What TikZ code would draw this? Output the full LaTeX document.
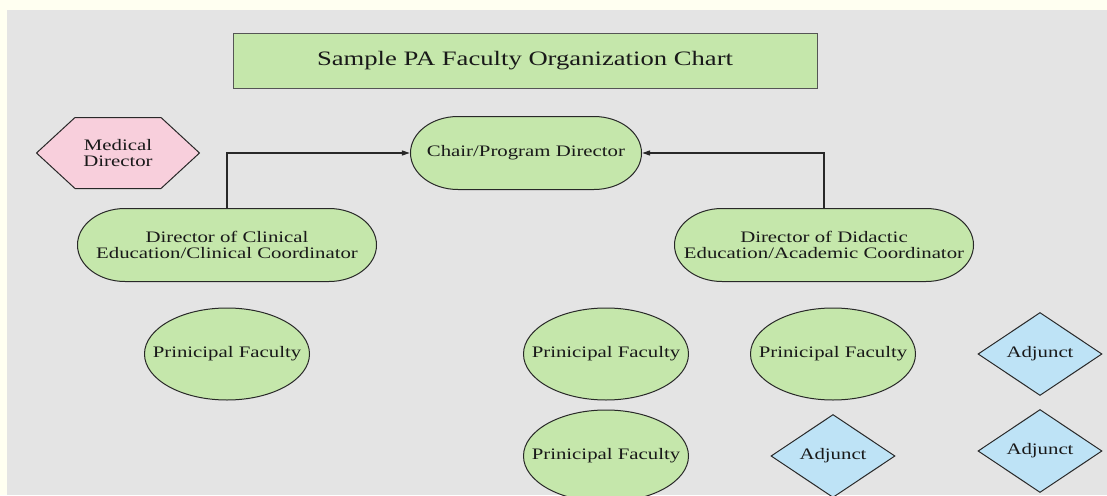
\documentclass[tikz,border=0pt]{standalone}
\usepackage{fontspec}
\setmainfont{Liberation Serif}[FakeStretch=1.3]
\usetikzlibrary{shapes.geometric,arrows.meta,calc}
\definecolor{creamc}{RGB}{255,255,241}
\definecolor{bggray}{RGB}{228,228,228}
\definecolor{greenf}{RGB}{197,231,171}
\definecolor{pinkf}{RGB}{248,207,220}
\definecolor{bluef}{RGB}{190,227,246}
\definecolor{linec}{RGB}{40,40,40}
\definecolor{titleline}{RGB}{85,85,85}
\definecolor{textc}{RGB}{25,25,25}
\newcommand{\bodysz}{\fontsize{16}{16.7}\selectfont}
\newcommand{\titlesz}{\fontsize{20.5}{22}\selectfont}
\begin{document}
\begin{tikzpicture}[x=1pt,y=1pt,
  base/.style={font=\bodysz, text=textc, inner sep=2pt, align=center},
  titlebox/.style={base, rectangle, draw=titleline, fill=greenf, line width=1pt,
    minimum width=584pt, minimum height=54pt, font=\titlesz},
  stadium/.style={base, rectangle, minimum width=#1, minimum height=74pt,
    path picture={
     \draw[draw=linec, fill=greenf, line width=1pt]
       ([xshift=-48pt,yshift=-0.5pt]path picture bounding box.north east)
       arc[start angle=90,end angle=-90,x radius=47.5pt,y radius=36.5pt]
       -- ([xshift=48pt,yshift=0.5pt]path picture bounding box.south west)
       arc[start angle=270,end angle=90,x radius=47.5pt,y radius=36.5pt]
       -- cycle;}},
  hexbox/.style={base, rectangle, minimum width=164pt, minimum height=72pt,
    path picture={
     \draw[draw=linec, fill=pinkf, line width=1pt]
       ([xshift=0.5pt]path picture bounding box.west)
       -- ([xshift=39pt,yshift=-0.5pt]path picture bounding box.north west)
       -- ([xshift=-39pt,yshift=-0.5pt]path picture bounding box.north east)
       -- ([xshift=-0.5pt]path picture bounding box.east)
       -- ([xshift=-39pt,yshift=0.5pt]path picture bounding box.south east)
       -- ([xshift=39pt,yshift=0.5pt]path picture bounding box.south west)
       -- cycle;}},
  pf/.style={base, ellipse, draw=linec, fill=greenf, line width=1pt,
    minimum width=165pt, minimum height=92pt, inner sep=0pt},
  adj/.style={base, diamond, draw=linec, fill=bluef, line width=1pt,
    minimum width=124pt, minimum height=83pt, inner sep=0pt},
  conn/.style={draw=linec, line width=1.2pt, -{Triangle[length=8pt,width=5pt]}}
]
\useasboundingbox (0,0) rectangle (1107,-495);
\clip (0,0) rectangle (1107,-495);
\fill[creamc] (0,0) rectangle (1107,-495);
\fill[bggray] (7,-10) rectangle (1107,-495);

\node[titlebox] (title) at (525,-61) {Sample PA Faculty Organization Chart};
\node[hexbox] (med) at (118,-153) {Medical\\Director};
\node[stadium=232pt] (chair) at (526,-153) {Chair/Program Director};
\node[stadium=300pt] (clin) at (227,-245) {Director of Clinical\\Education/Clinical Coordinator};
\node[stadium=300pt] (did) at (824,-245) {Director of Didactic\\Education/Academic Coordinator};

\node[pf] (pf1) at (227,-354) {\makebox[0pt]{Prinicipal Faculty}};
\node[pf] (pf2) at (606,-354) {\makebox[0pt]{Prinicipal Faculty}};
\node[pf] (pf3) at (606,-456) {\makebox[0pt]{Prinicipal Faculty}};
\node[pf] (pf4) at (833,-354) {\makebox[0pt]{Prinicipal Faculty}};

\node[adj] (adj1) at (1040,-354) {\makebox[0pt]{Adjunct}};
\node[adj] (adj2) at (833,-456) {\makebox[0pt]{Adjunct}};
\node[adj] (adj3) at (1040,-451) {\makebox[0pt]{Adjunct}};

\draw[conn] (clin.north) |- (chair.west);
\draw[conn] (did.north) |- (chair.east);
\end{tikzpicture}
\end{document}
